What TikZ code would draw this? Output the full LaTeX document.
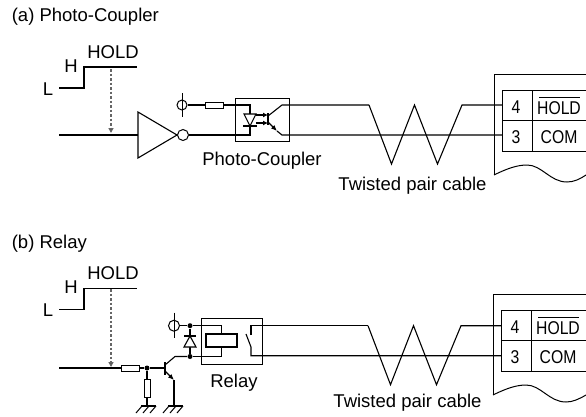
\documentclass[tikz,border=0pt]{standalone}
\usepackage{fontspec}
\setmainfont{Liberation Sans}
\usetikzlibrary{arrows.meta}

\begin{document}
\begin{tikzpicture}[x=1pt, y=-1pt, line width=1pt, every node/.style={font=\fontsize{18.5}{20}\selectfont}]
  \tikzstyle{wire} = [line width=1.1pt]
  \tikzstyle{res} = [rectangle, draw, fill=white, inner sep=0pt, minimum width=18pt, minimum height=6pt]
  \tikzstyle{vres} = [res, minimum width=6pt, minimum height=18pt]
  \tikzstyle{pwr} = [circle, draw, inner sep=0pt, minimum size=11pt]
  \tikzstyle{bub} = [circle, draw, inner sep=0pt, minimum size=11pt]
  \tikzstyle{dot} = [circle, fill=black, inner sep=0pt, minimum size=5pt]
  \tikzstyle{hint} = [draw=black!60, line width=1.3pt, dash pattern=on 2.5pt off 2pt, -{Triangle[length=5pt, width=5pt, fill=black]}]
  \useasboundingbox (0,0) rectangle (586,416);

  \node[anchor=west] (titlea) at (8,17) {(a) Photo-Coupler};
  \node[anchor=west] (titleb) at (8,244) {(b) Relay};

  % signal level and terminal block, same for both circuits
  \foreach \name/\dx/\dy/\dw in {a/0/0/0, b/-1/220/220.7} {
    \node (hold\name) at (113,52+\dy*1.005) {HOLD};
    \node (high\name) at (71,66+\dy*1.005) {H};
    \node (low\name) at (48,89+\dy*1.005) {L};
    \coordinate (la\name) at (59,88+\dy*1.005);
    \coordinate (lb\name) at (84,88+\dy*1.005);
    \coordinate (lc\name) at (84,67+\dy*1.005);
    \coordinate (ld\name) at (137,67+\dy*1.005);
    \draw[wire] (la\name) -- (lb\name) -- (lc\name) -- (ld\name);

    \coordinate (zs\name) at (369+\dx,105+\dw);
    \coordinate (ze\name) at (462+\dx,105+\dw);
    \coordinate (pin4\name) at (502+\dx,105+\dw);
    \coordinate (pin3\name) at (502+\dx,135+\dw);
    \draw[wire] (zs\name) -- ++(22.5,59) -- ++(23,-59) -- ++(23,59) -- (ze\name) -- (pin4\name);

    \draw (494+\dx,175+\dy) -- (494+\dx,74+\dy) -- (586,74+\dy);
    \draw (494+\dx,175+\dy) .. controls (508+\dx,168+\dy) and (518+\dx,165+\dy) .. (527+\dx,165+\dy)
      .. controls (542+\dx,165+\dy) and (550+\dx,182+\dy) .. (567+\dx,182+\dy)
      .. controls (574+\dx,182+\dy) and (580+\dx,179+\dy) .. (586,175+\dy);
    \draw (586,90+\dy) -- (502+\dx,90+\dy) -- (502+\dx,151+\dy) -- (586,151+\dy);
    \draw (502+\dx,120+\dy) -- (586,120+\dy);
    \draw (532+\dx,90+\dy) -- (532+\dx,151+\dy);
    \node (four\name) at (516+\dx,107+\dy) {\scalebox{0.85}[1]{4}};
    \node (three\name) at (516+\dx,137+\dy) {\scalebox{0.85}[1]{3}};
    \node (sig\name) at (559+\dx,108+\dy) {\scalebox{0.85}[1]{HOLD}};
    \node (com\name) at (559+\dx,137+\dy) {\scalebox{0.85}[1]{COM}};
    \draw[line width=0.8pt] (539+\dx,97+\dy) -- (580+\dx,97+\dy);
    \node (cable\name) at (412.5+\dx*5,186+\dy*0.985) {Twisted pair cable};
  }

  % (a) inverter and coupler
  \coordinate (ina) at (59,135);
  \coordinate (holda-end) at (111,133);
  \draw[wire] (ina) -- (138,135);
  \draw[hint] (111,69) -- (holda-end);
  \draw[wire, fill=white] (138,112) -- (177,135) -- (138,158) -- cycle;
  \node[bub] (inv) at (183,135) {};
  \node[pwr, minimum size=10pt] (vcca) at (182,105) {};
  \draw (vcca.center) ++(0,-12) -- ++(0,24);
  \node[res] (r1) at (214,105) {};
  \node[rectangle, draw, inner sep=0pt, minimum width=54pt, minimum height=43pt] (pc) at (262,119.5) {};
  \node (pclabel) at (262,161) {Photo-Coupler};
  \coordinate (led) at (250,105);
  \coordinate (ledb) at (250,135);
  \draw[wire] (vcca) -- (r1) -- (led) -- (ledb) -- (inv);
  \draw[wire, fill=white] (244,114) -- (256,114) -- (250,126) -- cycle;
  \draw[wire] (243,126) -- (257,126);
  \foreach \yy in {115,123}
    \draw[line width=1.3pt, -{Latex[length=5pt, width=5pt]}] (256,\yy) -- (268,\yy);
  \draw[line width=1.5pt] (268,113) -- (268,125);
  \coordinate (cola) at (282,105);
  \coordinate (emia) at (282,135);
  \draw[wire] (268,116) -- (cola) -- (zsa);
  \draw[wire, -{Latex[length=6pt, width=5pt]}] (268,122) -- (277,131);
  \draw[wire] (277,131) -- (emia) -- (pin3a);

  % (b) transistor and relay
  \coordinate (inb) at (59,368);
  \node[res] (r2) at (130,368) {};
  \node[dot] (base) at (147,368) {};
  \node[vres] (r3) at (147,388) {};
  \node[pwr] (vccb) at (174,325.7) {};
  \draw (vccb.center) ++(0,-13) -- ++(0,25);
  \node[dot] (dtop) at (190,325.7) {};
  \node[dot] (dbot) at (190,356.5) {};
  \node[rectangle, draw, inner sep=0pt, minimum width=61pt, minimum height=46pt] (relay) at (231.5,341) {};
  \node[rectangle, draw, line width=1.1pt, inner sep=0pt, minimum width=31pt, minimum height=13pt] (coil) at (221.5,340.5) {};
  \node (rlabel) at (234,383) {Relay};
  \draw[hint] (111,289) -- (111,367);
  \coordinate (tb) at (165,368);
  \coordinate (tc) at (175,356.5);
  \coordinate (te) at (174,380);
  \coordinate (gnda) at (147,406);
  \coordinate (gndb) at (174,406);
  \draw[wire] (inb) -- (r2) -- (base) -- (tb);
  \draw[wire] (base) -- (r3) -- (gnda);
  \draw[line width=1.5pt] (165,362) -- (165,375);
  \draw[wire] (165,365) -- (tc) -- (dbot);
  \draw[wire, -{Latex[length=6pt, width=5pt]}] (165,371) -- (te);
  \draw[wire] (te) -- (gndb);
  \draw[wire] (vccb) -- (dtop) -- (dbot);
  \draw[wire] (dtop) -| (coil.north);
  \draw[wire] (dbot) -| (coil.south);
  \draw[wire, fill=white] (184,347) -- (196,347) -- (190,336) -- cycle;
  \draw[wire] (184,336) -- (196,336);
  \foreach \gx in {147,174} {
    \draw[wire] (\gx-6,406) -- (\gx+9,406);
    \foreach \sx in {-5,2,9}
      \draw (\gx+\sx,406) -- (\gx+\sx-6,413);
  }
  \coordinate (swa) at (251,325.7);
  \coordinate (swb) at (251,355.7);
  \draw[wire] (251,335) -- (swa) -- (zsb);
  \draw[wire] (246,334) -- (251,347) -- (swb) -- (pin3b);
\end{tikzpicture}
\end{document}
